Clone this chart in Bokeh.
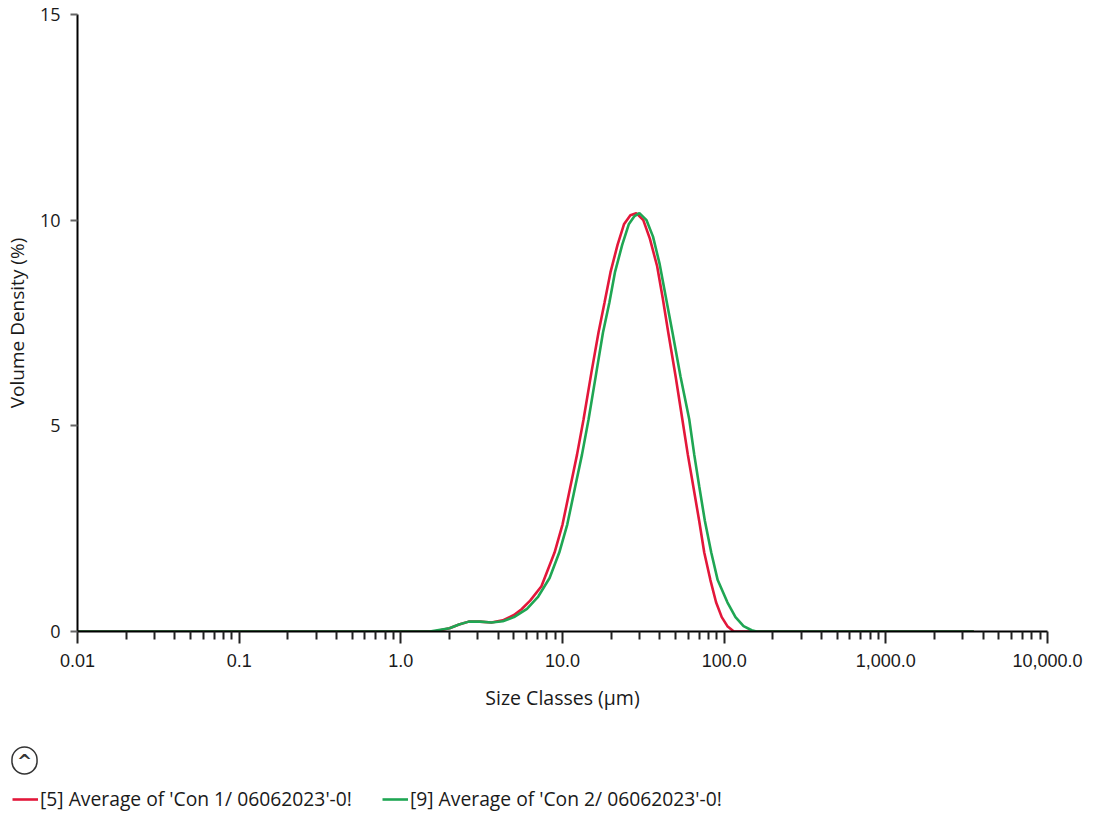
from bokeh.plotting import figure
from bokeh.layouts import column
from bokeh.models import Legend, LegendItem, Label, FixedTicker, Range1d
from bokeh.embed import file_html
from bokeh.resources import INLINE

# ---- data ----
red_size = [0.01, 1.62, 2.0, 2.29, 2.63, 3.09, 3.63, 4.27, 5.01, 5.58, 6.31, 7.41, 8.93, 10.0,
            11.2, 12.3, 13.5, 15.1, 16.7, 18.2, 19.8, 21.9, 24.0, 26.3, 28.6, 31.6, 34.7, 38.5,
            41.7, 45.1, 50.1, 55.1, 59.6, 64.4, 70.0, 75.3, 82.2, 89.1, 96.6, 104.7, 114.8, 3500]
red_vol = [0, 0, 0.08, 0.17, 0.24, 0.24, 0.22, 0.27, 0.40, 0.54, 0.75, 1.1, 1.92, 2.6,
           3.53, 4.3, 5.16, 6.3, 7.27, 8.0, 8.73, 9.4, 9.9, 10.12, 10.17, 10.0, 9.55, 8.88,
           8.1, 7.27, 6.2, 5.16, 4.3, 3.53, 2.7, 1.92, 1.25, 0.71, 0.35, 0.13, 0.0, 0]

green_size = [0.01, 1.51, 2.0, 2.29, 2.63, 3.09, 3.63, 4.27, 5.01, 6.03, 7.08, 8.32, 9.55, 10.7,
              12.0, 13.2, 14.5, 16.2, 17.8, 19.5, 21.1, 23.4, 25.7, 27.9, 29.9, 33.1, 36.3, 39.8,
              43.7, 47.9, 53.7, 60.8, 65.3, 70.1, 75.9, 83.2, 91.2, 104.7, 117.5, 131.8, 147.9,
              158.5, 3500]
green_vol = [0, 0, 0.08, 0.17, 0.24, 0.24, 0.22, 0.25, 0.35, 0.55, 0.85, 1.3, 1.92, 2.6,
             3.53, 4.3, 5.16, 6.3, 7.27, 8.0, 8.73, 9.4, 9.9, 10.1, 10.17, 10.0, 9.6, 8.95,
             8.1, 7.27, 6.2, 5.16, 4.3, 3.53, 2.7, 1.92, 1.25, 0.71, 0.35, 0.13, 0.03,
             0.0, 0]

x_ticks = [0.01, 0.1, 1.0, 10.0, 100.0, 1000.0, 10000.0]
x_tick_labels = ["0.01", "0.1", "1.0", "10.0", "100.0", "1,000.0", "10,000.0"]
y_ticks = [0, 5, 10, 15]
y_tick_labels = ["0", "5", "10", "15"]

series_names = ["[5] Average of 'Con 1/ 06062023'-0!", "[9] Average of 'Con 2/ 06062023'-0!"]
series_colors = ["#E3173A", "#1FA653"]

TEXT = "#1a1a1a"
W = 1090

p = figure(width=W, height=722, x_axis_type="log",
           x_range=Range1d(0.01, 10000), y_range=Range1d(0, 15),
           output_backend="svg", toolbar_location=None,
           min_border_left=74, min_border_right=W - 1047, min_border_top=14, min_border_bottom=91)
p.outline_line_color = None
p.xgrid.visible = False
p.ygrid.visible = False
p.background_fill_color = "white"

p.line(red_size, red_vol, line_color=series_colors[0], line_width=2.6)
p.line(green_size, green_vol, line_color=series_colors[1], line_width=2.6)

# x axis
minor = [m * 10.0 ** e for e in range(-2, 4) for m in range(2, 10)]
p.xaxis.ticker = FixedTicker(ticks=x_ticks, minor_ticks=minor)
p.xaxis.major_label_overrides = {t: l for t, l in zip(x_ticks, x_tick_labels)}
p.xaxis.axis_line_color = "black"
p.xaxis.axis_line_width = 2
p.xaxis.major_tick_line_color = "#222222"
p.xaxis.major_tick_line_width = 2
p.xaxis.major_tick_in = 0
p.xaxis.major_tick_out = 12
p.xaxis.minor_tick_line_color = "#222222"
p.xaxis.minor_tick_line_width = 2
p.xaxis.minor_tick_in = 0
p.xaxis.minor_tick_out = 8
p.xaxis.major_label_text_font = "Liberation Sans"
p.xaxis.major_label_text_font_size = "18px"
p.xaxis.major_label_text_color = TEXT
p.xaxis.major_label_standoff = 10
p.xaxis.axis_label = "Size Classes (µm)"
p.xaxis.axis_label_text_font = "Open Sans"
p.xaxis.axis_label_text_font_style = "normal"
p.xaxis.axis_label_text_font_size = "19.5px"
p.xaxis.axis_label_text_color = TEXT
p.xaxis.axis_label_standoff = 14

# y axis
p.yaxis.ticker = FixedTicker(ticks=y_ticks, minor_ticks=[])
p.yaxis.major_label_overrides = {t: l for t, l in zip(y_ticks, y_tick_labels)}
p.yaxis.axis_line_color = "black"
p.yaxis.axis_line_width = 2
p.yaxis.major_tick_line_color = "#666666"
p.yaxis.major_tick_line_width = 2
p.yaxis.major_tick_in = 0
p.yaxis.major_tick_out = 7
p.yaxis.minor_tick_line_color = None
p.yaxis.major_label_text_font = "Open Sans"
p.yaxis.major_label_text_font_size = "18px"
p.yaxis.major_label_text_color = TEXT
p.yaxis.major_label_standoff = 10
p.yaxis.axis_label = "Volume Density (%)"
p.yaxis.axis_label_text_font = "Open Sans"
p.yaxis.axis_label_text_font_style = "normal"
p.yaxis.axis_label_text_font_size = "19px"
p.yaxis.axis_label_text_color = TEXT
p.yaxis.axis_label_standoff = 7

# ---- legend strip below the chart ----
H2 = 96
q = figure(width=W, height=H2, x_range=Range1d(0, W), y_range=Range1d(0, H2),
           output_backend="svg", toolbar_location=None,
           min_border=0, x_axis_location=None, y_axis_location=None)
q.frame_align = False
q.outline_line_color = None
q.xgrid.visible = False
q.ygrid.visible = False
# legend proxies, kept outside the visible strip
k1 = q.line([-1000, -990], [-1000, -1000], line_color=series_colors[0], line_width=2.6)
k2 = q.line([-1000, -990], [-1000, -1000], line_color=series_colors[1], line_width=2.6)
legend = Legend(items=[LegendItem(label=series_names[0], renderers=[k1]),
                       LegendItem(label=series_names[1], renderers=[k2])],
                orientation="horizontal", location=(12, 6),
                glyph_width=26, glyph_height=22, label_height=22, label_standoff=2,
                spacing=30, padding=0, margin=0,
                border_line_color=None, background_fill_alpha=0,
                label_text_font="Open Sans", label_text_font_size="19.3px",
                label_text_color=TEXT)
q.add_layout(legend, "center")

icon = Label(x=24, y=58, text="^",
             text_font="DejaVu Sans", text_font_style="bold", text_font_size="18px",
             text_color="#333333", text_align="center", text_baseline="middle",
             border_line_color="#333333", border_line_width=1.5, border_radius=13,
             padding=(5, 3))
q.add_layout(icon)

open("out.html", "w").write(file_html(column(p, q, spacing=0), INLINE))
